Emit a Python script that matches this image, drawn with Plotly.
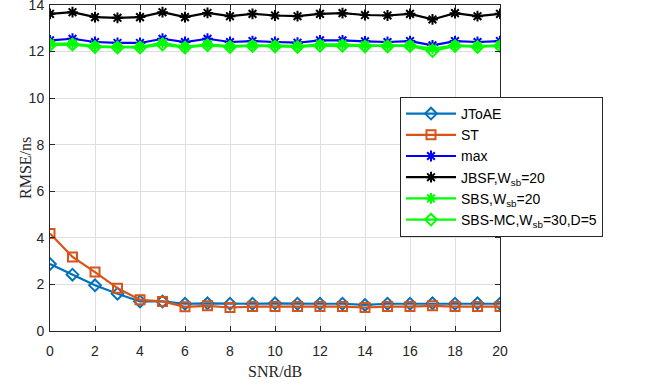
import plotly.graph_objects as go

snr = list(range(0, 21))
jtoae = [2.88, 2.42, 1.96, 1.60, 1.27, 1.27, 1.17, 1.19, 1.17, 1.17, 1.19, 1.17, 1.17, 1.17, 1.12, 1.17, 1.17, 1.19, 1.17, 1.19, 1.17]
st = [4.19, 3.18, 2.53, 1.84, 1.34, 1.27, 1.04, 1.08, 1.01, 1.05, 1.05, 1.05, 1.05, 1.05, 1.01, 1.05, 1.05, 1.08, 1.05, 1.05, 1.05]
mx = [12.48, 12.55, 12.41, 12.37, 12.37, 12.55, 12.41, 12.55, 12.41, 12.45, 12.41, 12.38, 12.48, 12.48, 12.44, 12.41, 12.45, 12.27, 12.45, 12.41, 12.45]
jbsf = [13.62, 13.69, 13.48, 13.45, 13.48, 13.69, 13.48, 13.66, 13.52, 13.62, 13.55, 13.52, 13.62, 13.65, 13.57, 13.55, 13.62, 13.38, 13.65, 13.52, 13.62]
sbs = [12.34, 12.34, 12.24, 12.20, 12.20, 12.37, 12.20, 12.31, 12.23, 12.27, 12.27, 12.24, 12.31, 12.31, 12.27, 12.27, 12.27, 12.13, 12.27, 12.23, 12.27]
sbsmc = [12.28, 12.30, 12.20, 12.17, 12.17, 12.30, 12.17, 12.27, 12.20, 12.24, 12.22, 12.20, 12.25, 12.25, 12.22, 12.22, 12.24, 12.02, 12.24, 12.20, 12.24]

x_title = "SNR/dB"
y_title = "RMSE/ns"

series = [
    ("JToAE", jtoae, "#0072BD", "diamond-open"),
    ("ST", st, "#D95319", "square-open"),
    ("max", mx, "#0000FF", "asterisk-open"),
    ("JBSF,W<sub>sb</sub>=20", jbsf, "#000000", "asterisk-open"),
    ("SBS,W<sub>sb</sub>=20", sbs, "#00FF00", "asterisk-open"),
    ("SBS-MC,W<sub>sb</sub>=30,D=5", sbsmc, "#00FF00", "diamond-open"),
]

fig = go.Figure()
for name, vals, col, sym in series:
    fig.add_trace(go.Scatter(
        x=snr, y=vals, name=name, mode="lines+markers",
        line=dict(color=col, width=2.2),
        marker=dict(symbol=sym, size=9, color=col, line=dict(color=col, width=2)),
    ))

axis_common = dict(
    showline=True, linecolor="#262626", linewidth=1, mirror="ticks",
    ticks="inside", ticklen=5, tickcolor="#262626",
    showgrid=True, gridcolor="#DFDFDF", gridwidth=1, zeroline=False,
    automargin=False, ticklabeloverflow="allow",
    tickfont=dict(family="Liberation Sans, Arial", size=14, color="#262626"),
)
fig.update_xaxes(range=[0, 20], tickvals=list(range(0, 21, 2)),
                 ticklabelstandoff=7, **axis_common)
fig.update_yaxes(range=[0, 14], tickvals=list(range(0, 15, 2)),
                 ticklabelstandoff=2, **axis_common)

L, R, T, B = 50, 154, 5, 56
pw = 654 - L - R
ph = 387 - T - B
title_font = dict(family="Liberation Serif, Times New Roman", size=16, color="#262626")
fig.add_annotation(text=x_title, xref="paper", yref="paper",
                   x=0.5, y=-(371 - (387 - B)) / ph, xanchor="center", yanchor="middle",
                   showarrow=False, font=title_font)
fig.add_annotation(text=y_title, xref="paper", yref="paper",
                   x=(25 - L) / pw, y=0.5, xanchor="center", yanchor="middle",
                   textangle=-90, showarrow=False, font=title_font)

fig.update_layout(
    width=654, height=387,
    margin=dict(l=L, r=R, t=T, b=B),
    plot_bgcolor="white", paper_bgcolor="white",
    legend=dict(x=(400 - L) / pw, y=1 - (97 - T) / ph,
                xanchor="left", yanchor="top",
                font=dict(family="Liberation Sans, Arial", size=14, color="#000000"),
                bgcolor="white", bordercolor="#262626", borderwidth=1,
                tracegroupgap=0, itemwidth=50),
    showlegend=True,
)

fig.write_html("out.html", config={"displayModeBar": False},
               post_script="document.body.style.margin='0';document.body.style.overflow='hidden';")
